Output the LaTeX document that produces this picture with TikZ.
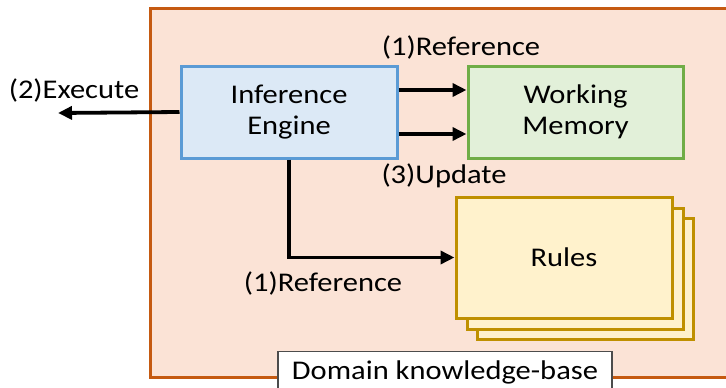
\documentclass[tikz,border=0pt]{standalone}
\usepackage{fontspec}
\setmainfont{Carlito}[FakeStretch=1.13]
\usetikzlibrary{arrows.meta}
\definecolor{outerfill}{HTML}{FBE3D6}
\definecolor{outerdraw}{HTML}{C55A11}
\definecolor{iefill}{HTML}{DCE9F6}
\definecolor{iedraw}{HTML}{5B9BD5}
\definecolor{wmfill}{HTML}{E2F0D9}
\definecolor{wmdraw}{HTML}{70AD47}
\definecolor{rufill}{HTML}{FFF2CC}
\definecolor{rudraw}{HTML}{BF9000}
\tikzset{
  lbl/.style={font=\fontsize{27}{31}\selectfont, text=black, inner sep=0pt},
  box/.style={lbl, line width=3pt, align=center, minimum width=#1},
  arr/.style={line width=3.8pt, -{Triangle[length=14pt,width=13pt]}},
}
\begin{document}
\begin{tikzpicture}[x=1pt,y=-1pt]
\useasboundingbox (0,0) rectangle (726,388);
% outer domain box
\draw[outerdraw, fill=outerfill, line width=3pt] (150,8) rectangle (745,377);
% nodes
\node[box=216pt, minimum height=92pt, draw=iedraw, fill=iefill] (ie) at (289,112) {Inference\\Engine};
\node[box=215pt, minimum height=92pt, draw=wmdraw, fill=wmfill] (wm) at (575.5,112) {Working\\Memory};
\node[box=216pt, minimum height=121pt, draw=rudraw, fill=rufill] (r3) at (585,279) {};
\node[box=216pt, minimum height=121pt, draw=rudraw, fill=rufill] (r2) at (575,269) {};
\node[box=216pt, minimum height=121pt, draw=rudraw, fill=rufill] (rules) at (564,257.5) {Rules};
% domain label box
\node[lbl, draw=black!70, fill=white, line width=1.2pt, minimum width=334pt, minimum height=48pt, anchor=north] (dk) at (445,351) {};
\node[lbl] (dkt) at (445,372) {Domain knowledge-base};
% labels
\node[lbl] (ref1) at (461,47) {(1)Reference};
\node[lbl] (upd) at (444,176) {(3)Update};
\node[lbl] (exe) at (74,90) {(2)Execute};
\node[lbl] (ref2) at (323,283) {(1)Reference};
% connectors
\coordinate (exend) at (58,113);
\draw[arr] ([yshift=22pt]ie.east) -- ([yshift=22pt]wm.west);
\draw[arr] ([yshift=-22pt]ie.east) -- ([yshift=-22pt]wm.west);
\draw[arr] (ie.west) -- (exend);
\draw[arr] (ie.south) |- (rules.west);
\end{tikzpicture}
\end{document}
